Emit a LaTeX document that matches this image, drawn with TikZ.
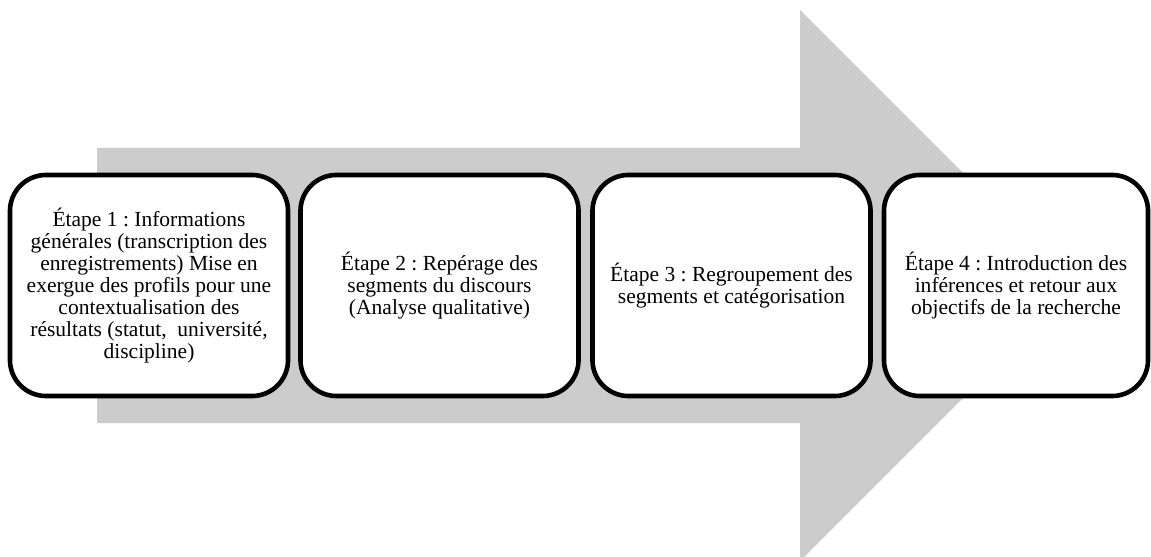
\documentclass[tikz,border=0pt]{standalone}
\usepackage{fontspec}
\setmainfont{Liberation Serif}
\frenchspacing
\definecolor{arrowgrey}{RGB}{204,204,204}
\tikzset{
  etapebox/.style={draw=black, line width=0.115cm, fill=white, rounded corners=0.9cm,
    minimum height=5.525cm, align=center, inner sep=0pt,
    font=\fontsize{15.3}{15.6}\selectfont},
}
\begin{document}
\begin{tikzpicture}[x=0.025cm, y=-0.025cm]
                \useasboundingbox (0,0) rectangle (1151,557);
                \clip (0,0) rectangle (1151,557);

                % Drawing arrow
                \fill [arrowgrey] (97,148) -- (800,148) -- (800,10) -- (1075.5,285.5)
                  -- (800,561) -- (800,423) -- (97,423) -- cycle;%

                % Marking step 1
                \node [etapebox, minimum width=6.95cm] (etape1) at (149,285.5)
                  {Étape 1 : Informations\\générales (transcription des\\enregistrements) Mise en\\exergue des profils pour une\\contextualisation des\\résultats (statut,\ \ université,\\discipline)};%

                % Marking step 2
                \node [etapebox, minimum width=6.95cm] (etape2) at (439.5,285.5)
                  {Étape 2 : Repérage des\\segments du discours\\(Analyse qualitative)};%

                % Marking step 3
                \node [etapebox, minimum width=6.95cm] (etape3) at (731.5,285.5)
                  {Étape 3 : Regroupement des\\segments et catégorisation};%

                % Marking step 4
                \node [etapebox, minimum width=6.6cm] (etape4) at (1016,285.5)
                  {Étape 4 : Introduction des\\inférences et retour aux\\objectifs de la recherche};%
\end{tikzpicture}
\end{document}
